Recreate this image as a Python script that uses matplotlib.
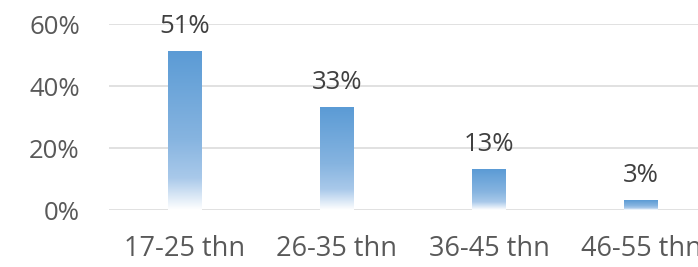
import matplotlib.pyplot as plt
import numpy as np
from matplotlib.colors import LinearSegmentedColormap

categories = ["17-25 thn", "26-35 thn", "36-45 thn", "46-55 thn"]
values = [0.51, 0.33, 0.13, 0.03]
y_ticks = [0, 0.2, 0.4, 0.6]

plt.rcParams['font.family'] = ['Open Sans', 'DejaVu Sans']
text_color = '#595959'

# gradient: blue at top, fading to white at the bottom
grad = LinearSegmentedColormap.from_list(
    'bar', [(0, '#FFFFFF'), (0.2, '#A9C9EA'), (0.45, '#86B4E0'), (1, '#5B9BD5')])

fig = plt.figure(figsize=(6.98, 2.67), dpi=100)
ax = fig.add_axes([109 / 698, 57 / 267, 608 / 698, 186 / 267])

x = np.arange(len(categories))
width = 0.22
fs = 18.5

for yt in y_ticks:
    ax.axhline(yt, color='#D9D9D9', lw=1.1, zorder=0)

gradient = np.linspace(0, 1, 256).reshape(-1, 1)
for xi, v in zip(x, values):
    ax.imshow(gradient, cmap=grad, origin='lower', aspect='auto',
              extent=(xi - width / 2, xi + width / 2, 0, v), zorder=2)
    ax.text(xi, v + 0.06, f"{v * 100:.0f}%", ha='center', va='baseline',
            fontsize=fs, color='#404040', clip_on=False, zorder=3)

ax.set_xlim(-0.5, len(categories) - 0.5)
ax.set_ylim(0, 0.6)
ax.set_yticks(y_ticks)
ax.set_yticklabels([f"{t * 100:.0f}%" for t in y_ticks])
ax.set_xticks(x)
ax.set_xticklabels(categories)
ax.tick_params(axis='both', length=0, labelsize=fs, labelcolor=text_color)
ax.tick_params(axis='x', pad=18, labelsize=19.5)
ax.tick_params(axis='y', pad=21)
for s in ax.spines.values():
    s.set_visible(False)

fig.savefig('out.png', dpi=100)
